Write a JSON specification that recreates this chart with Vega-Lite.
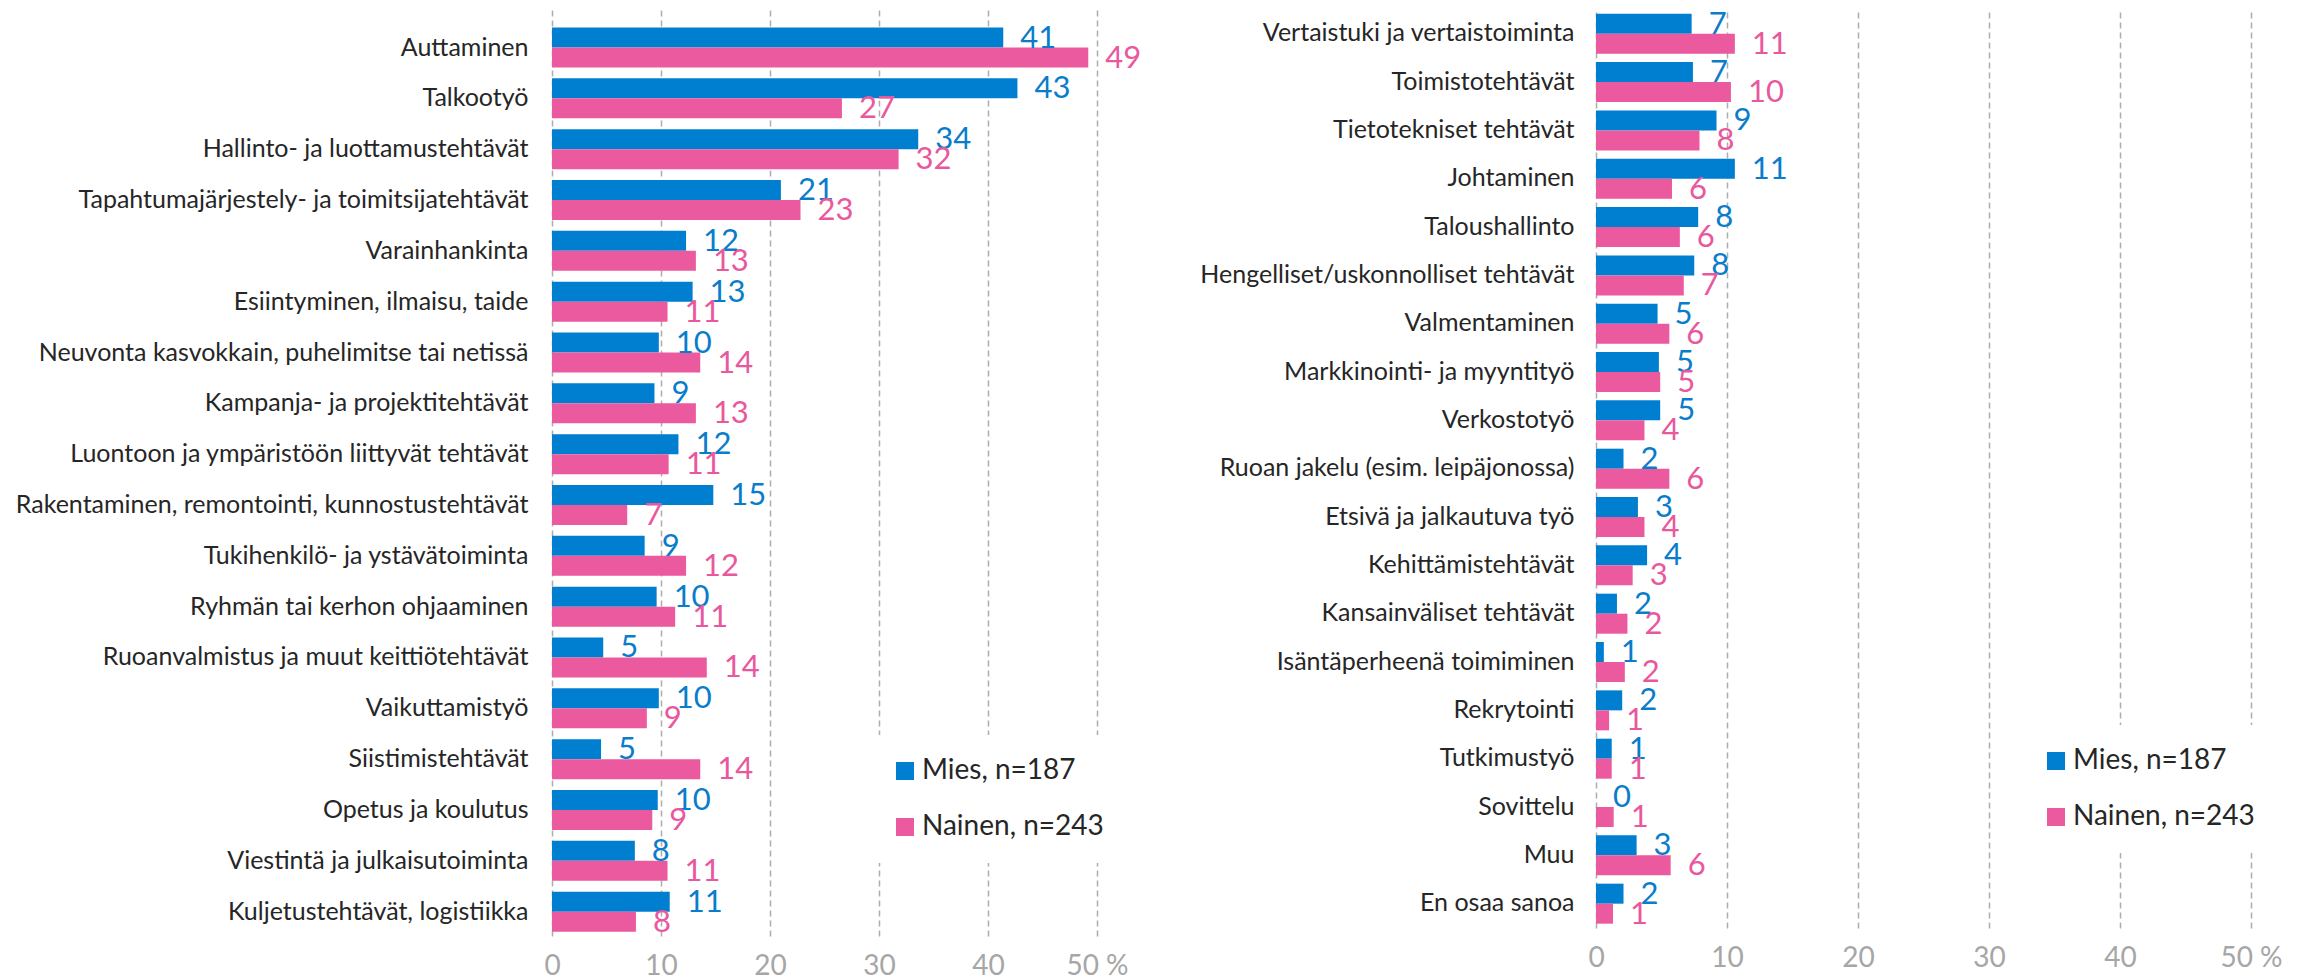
{
  "$schema": "https://vega.github.io/schema/vega-lite/v6.json",
  "background": "white",
  "padding": {"left": 15, "top": 8, "right": 5, "bottom": 0},
  "bounds": "flush",
  "spacing": 499,
  "config": {
    "font": "Lato",
    "view": {"stroke": null},
    "axisX": {"grid": true, "gridColor": "#ADADAD", "gridDash": [6, 4], "gridWidth": 1.5, "ticks": false, "domain": false, "labelFont": "Lato", "labelFontSize": 28, "labelColor": "#A6A6A6", "labelPadding": 16, "labelFlush": false, "title": null},
    "axisY": {"grid": false, "ticks": false, "domain": false, "labelFont": "Lato", "labelFontSize": 25, "labelColor": "#262626", "labelLimit": 700, "title": null},
    "legend": {"symbolType": "square", "symbolSize": 324, "symbolStrokeWidth": 0, "symbolOpacity": 1, "labelFont": "Lato", "labelFontSize": 28, "labelColor": "#262626", "labelLimit": 400, "labelOffset": 3, "rowPadding": 28, "fillColor": "white", "padding": 22, "title": null}
  },
  "datasets": {
    "vasen": [
      {"teht": "Auttaminen", "sukupuoli": "Mies, n=187", "arvo": 41.4, "label": "41"},
      {"teht": "Auttaminen", "sukupuoli": "Nainen, n=243", "arvo": 49.2, "label": "49"},
      {"teht": "Talkootyö", "sukupuoli": "Mies, n=187", "arvo": 42.7, "label": "43"},
      {"teht": "Talkootyö", "sukupuoli": "Nainen, n=243", "arvo": 26.6, "label": "27"},
      {"teht": "Hallinto- ja luottamustehtävät", "sukupuoli": "Mies, n=187", "arvo": 33.6, "label": "34"},
      {"teht": "Hallinto- ja luottamustehtävät", "sukupuoli": "Nainen, n=243", "arvo": 31.8, "label": "32"},
      {"teht": "Tapahtumajärjestely- ja toimitsijatehtävät", "sukupuoli": "Mies, n=187", "arvo": 21.0, "label": "21"},
      {"teht": "Tapahtumajärjestely- ja toimitsijatehtävät", "sukupuoli": "Nainen, n=243", "arvo": 22.8, "label": "23"},
      {"teht": "Varainhankinta", "sukupuoli": "Mies, n=187", "arvo": 12.3, "label": "12"},
      {"teht": "Varainhankinta", "sukupuoli": "Nainen, n=243", "arvo": 13.2, "label": "13"},
      {"teht": "Esiintyminen, ilmaisu, taide", "sukupuoli": "Mies, n=187", "arvo": 12.9, "label": "13"},
      {"teht": "Esiintyminen, ilmaisu, taide", "sukupuoli": "Nainen, n=243", "arvo": 10.6, "label": "11"},
      {"teht": "Neuvonta kasvokkain, puhelimitse tai netissä", "sukupuoli": "Mies, n=187", "arvo": 9.8, "label": "10"},
      {"teht": "Neuvonta kasvokkain, puhelimitse tai netissä", "sukupuoli": "Nainen, n=243", "arvo": 13.6, "label": "14"},
      {"teht": "Kampanja- ja projektitehtävät", "sukupuoli": "Mies, n=187", "arvo": 9.4, "label": "9"},
      {"teht": "Kampanja- ja projektitehtävät", "sukupuoli": "Nainen, n=243", "arvo": 13.2, "label": "13"},
      {"teht": "Luontoon ja ympäristöön liittyvät tehtävät", "sukupuoli": "Mies, n=187", "arvo": 11.6, "label": "12"},
      {"teht": "Luontoon ja ympäristöön liittyvät tehtävät", "sukupuoli": "Nainen, n=243", "arvo": 10.7, "label": "11"},
      {"teht": "Rakentaminen, remontointi, kunnostustehtävät", "sukupuoli": "Mies, n=187", "arvo": 14.8, "label": "15"},
      {"teht": "Rakentaminen, remontointi, kunnostustehtävät", "sukupuoli": "Nainen, n=243", "arvo": 6.9, "label": "7"},
      {"teht": "Tukihenkilö- ja ystävätoiminta", "sukupuoli": "Mies, n=187", "arvo": 8.5, "label": "9"},
      {"teht": "Tukihenkilö- ja ystävätoiminta", "sukupuoli": "Nainen, n=243", "arvo": 12.3, "label": "12"},
      {"teht": "Ryhmän tai kerhon ohjaaminen", "sukupuoli": "Mies, n=187", "arvo": 9.6, "label": "10"},
      {"teht": "Ryhmän tai kerhon ohjaaminen", "sukupuoli": "Nainen, n=243", "arvo": 11.3, "label": "11"},
      {"teht": "Ruoanvalmistus ja muut keittiötehtävät", "sukupuoli": "Mies, n=187", "arvo": 4.7, "label": "5"},
      {"teht": "Ruoanvalmistus ja muut keittiötehtävät", "sukupuoli": "Nainen, n=243", "arvo": 14.2, "label": "14"},
      {"teht": "Vaikuttamistyö", "sukupuoli": "Mies, n=187", "arvo": 9.8, "label": "10"},
      {"teht": "Vaikuttamistyö", "sukupuoli": "Nainen, n=243", "arvo": 8.7, "label": "9"},
      {"teht": "Siistimistehtävät", "sukupuoli": "Mies, n=187", "arvo": 4.5, "label": "5"},
      {"teht": "Siistimistehtävät", "sukupuoli": "Nainen, n=243", "arvo": 13.6, "label": "14"},
      {"teht": "Opetus ja koulutus", "sukupuoli": "Mies, n=187", "arvo": 9.7, "label": "10"},
      {"teht": "Opetus ja koulutus", "sukupuoli": "Nainen, n=243", "arvo": 9.2, "label": "9"},
      {"teht": "Viestintä ja julkaisutoiminta", "sukupuoli": "Mies, n=187", "arvo": 7.6, "label": "8"},
      {"teht": "Viestintä ja julkaisutoiminta", "sukupuoli": "Nainen, n=243", "arvo": 10.6, "label": "11"},
      {"teht": "Kuljetustehtävät, logistiikka", "sukupuoli": "Mies, n=187", "arvo": 10.8, "label": "11"},
      {"teht": "Kuljetustehtävät, logistiikka", "sukupuoli": "Nainen, n=243", "arvo": 7.7, "label": "8"}
    ],
    "oikea": [
      {"teht": "Vertaistuki ja vertaistoiminta", "sukupuoli": "Mies, n=187", "arvo": 7.3, "label": "7"},
      {"teht": "Vertaistuki ja vertaistoiminta", "sukupuoli": "Nainen, n=243", "arvo": 10.6, "label": "11"},
      {"teht": "Toimistotehtävät", "sukupuoli": "Mies, n=187", "arvo": 7.4, "label": "7"},
      {"teht": "Toimistotehtävät", "sukupuoli": "Nainen, n=243", "arvo": 10.3, "label": "10"},
      {"teht": "Tietotekniset tehtävät", "sukupuoli": "Mies, n=187", "arvo": 9.2, "label": "9"},
      {"teht": "Tietotekniset tehtävät", "sukupuoli": "Nainen, n=243", "arvo": 7.9, "label": "8"},
      {"teht": "Johtaminen", "sukupuoli": "Mies, n=187", "arvo": 10.6, "label": "11"},
      {"teht": "Johtaminen", "sukupuoli": "Nainen, n=243", "arvo": 5.8, "label": "6"},
      {"teht": "Taloushallinto", "sukupuoli": "Mies, n=187", "arvo": 7.8, "label": "8"},
      {"teht": "Taloushallinto", "sukupuoli": "Nainen, n=243", "arvo": 6.4, "label": "6"},
      {"teht": "Hengelliset/uskonnolliset tehtävät", "sukupuoli": "Mies, n=187", "arvo": 7.5, "label": "8"},
      {"teht": "Hengelliset/uskonnolliset tehtävät", "sukupuoli": "Nainen, n=243", "arvo": 6.7, "label": "7"},
      {"teht": "Valmentaminen", "sukupuoli": "Mies, n=187", "arvo": 4.7, "label": "5"},
      {"teht": "Valmentaminen", "sukupuoli": "Nainen, n=243", "arvo": 5.6, "label": "6"},
      {"teht": "Markkinointi- ja myyntityö", "sukupuoli": "Mies, n=187", "arvo": 4.8, "label": "5"},
      {"teht": "Markkinointi- ja myyntityö", "sukupuoli": "Nainen, n=243", "arvo": 4.9, "label": "5"},
      {"teht": "Verkostotyö", "sukupuoli": "Mies, n=187", "arvo": 4.9, "label": "5"},
      {"teht": "Verkostotyö", "sukupuoli": "Nainen, n=243", "arvo": 3.7, "label": "4"},
      {"teht": "Ruoan jakelu (esim. leipäjonossa)", "sukupuoli": "Mies, n=187", "arvo": 2.1, "label": "2"},
      {"teht": "Ruoan jakelu (esim. leipäjonossa)", "sukupuoli": "Nainen, n=243", "arvo": 5.6, "label": "6"},
      {"teht": "Etsivä ja jalkautuva työ", "sukupuoli": "Mies, n=187", "arvo": 3.2, "label": "3"},
      {"teht": "Etsivä ja jalkautuva työ", "sukupuoli": "Nainen, n=243", "arvo": 3.7, "label": "4"},
      {"teht": "Kehittämistehtävät", "sukupuoli": "Mies, n=187", "arvo": 3.9, "label": "4"},
      {"teht": "Kehittämistehtävät", "sukupuoli": "Nainen, n=243", "arvo": 2.8, "label": "3"},
      {"teht": "Kansainväliset tehtävät", "sukupuoli": "Mies, n=187", "arvo": 1.6, "label": "2"},
      {"teht": "Kansainväliset tehtävät", "sukupuoli": "Nainen, n=243", "arvo": 2.4, "label": "2"},
      {"teht": "Isäntäperheenä toimiminen", "sukupuoli": "Mies, n=187", "arvo": 0.6, "label": "1"},
      {"teht": "Isäntäperheenä toimiminen", "sukupuoli": "Nainen, n=243", "arvo": 2.2, "label": "2"},
      {"teht": "Rekrytointi", "sukupuoli": "Mies, n=187", "arvo": 2.0, "label": "2"},
      {"teht": "Rekrytointi", "sukupuoli": "Nainen, n=243", "arvo": 1.0, "label": "1"},
      {"teht": "Tutkimustyö", "sukupuoli": "Mies, n=187", "arvo": 1.2, "label": "1"},
      {"teht": "Tutkimustyö", "sukupuoli": "Nainen, n=243", "arvo": 1.2, "label": "1"},
      {"teht": "Sovittelu", "sukupuoli": "Mies, n=187", "arvo": 0, "label": "0"},
      {"teht": "Sovittelu", "sukupuoli": "Nainen, n=243", "arvo": 1.35, "label": "1"},
      {"teht": "Muu", "sukupuoli": "Mies, n=187", "arvo": 3.1, "label": "3"},
      {"teht": "Muu", "sukupuoli": "Nainen, n=243", "arvo": 5.7, "label": "6"},
      {"teht": "En osaa sanoa", "sukupuoli": "Mies, n=187", "arvo": 2.1, "label": "2"},
      {"teht": "En osaa sanoa", "sukupuoli": "Nainen, n=243", "arvo": 1.3, "label": "1"}
    ]
  },
  "resolve": {"legend": {"color": "independent"}},
  "hconcat": [
    {
      "width": 545,
      "height": 927,
      "data": {"name": "vasen"},
      "encoding": {
        "y": {"field": "teht", "type": "nominal", "sort": null, "scale": {"paddingInner": 0.213, "paddingOuter": 0.225, "align": 0.81}, "axis": {"labelPadding": 24}},
        "yOffset": {"field": "sukupuoli", "type": "nominal", "sort": ["Mies, n=187", "Nainen, n=243"], "scale": {"paddingInner": 0, "paddingOuter": 0}},
        "x": {"field": "arvo", "type": "quantitative", "scale": {"domain": [0, 50], "nice": false}, "axis": {"values": [0, 10, 20, 30, 40, 50], "labelExpr": "datum.value == 50 ? '50 %' : datum.label"}}
      },
      "layer": [
        {
          "mark": {"type": "bar"},
          "encoding": {
            "color": {"field": "sukupuoli", "type": "nominal", "sort": ["Mies, n=187", "Nainen, n=243"], "scale": {"domain": ["Mies, n=187", "Nainen, n=243"], "range": ["#007ED0", "#EB5A9E"]}, "legend": {"orient": "none", "legendX": 317, "legendY": 726}}
          }
        },
        {
          "mark": {"type": "text", "align": "left", "baseline": "middle", "dx": 17, "dy": 1, "fontSize": 31, "font": "Lato"},
          "encoding": {
            "text": {"field": "label"},
            "color": {"condition": {"test": "datum.sukupuoli === 'Mies, n=187'", "value": "#0A7CCC"}, "value": "#E9589D"}
          }
        }
      ]
    },
    {
      "width": 655,
      "height": 919,
      "data": {"name": "oikea"},
      "encoding": {
        "y": {"field": "teht", "type": "nominal", "sort": null, "scale": {"paddingInner": 0.193, "paddingOuter": 0.104, "align": 0.47}, "axis": {"labelPadding": 22}},
        "yOffset": {"field": "sukupuoli", "type": "nominal", "sort": ["Mies, n=187", "Nainen, n=243"], "scale": {"paddingInner": 0, "paddingOuter": 0}},
        "x": {"field": "arvo", "type": "quantitative", "scale": {"domain": [0, 50], "nice": false}, "axis": {"values": [0, 10, 20, 30, 40, 50], "labelExpr": "datum.value == 50 ? '50 %' : datum.label"}}
      },
      "layer": [
        {
          "mark": {"type": "bar"},
          "encoding": {
            "color": {"field": "sukupuoli", "type": "nominal", "sort": ["Mies, n=187", "Nainen, n=243"], "scale": {"domain": ["Mies, n=187", "Nainen, n=243"], "range": ["#007ED0", "#EB5A9E"]}, "legend": {"orient": "none", "legendX": 424, "legendY": 716}}
          }
        },
        {
          "mark": {"type": "text", "align": "left", "baseline": "middle", "dx": 17, "dy": 1, "fontSize": 31, "font": "Lato"},
          "encoding": {
            "text": {"field": "label"},
            "color": {"condition": {"test": "datum.sukupuoli === 'Mies, n=187'", "value": "#0A7CCC"}, "value": "#E9589D"}
          }
        }
      ]
    }
  ]
}
